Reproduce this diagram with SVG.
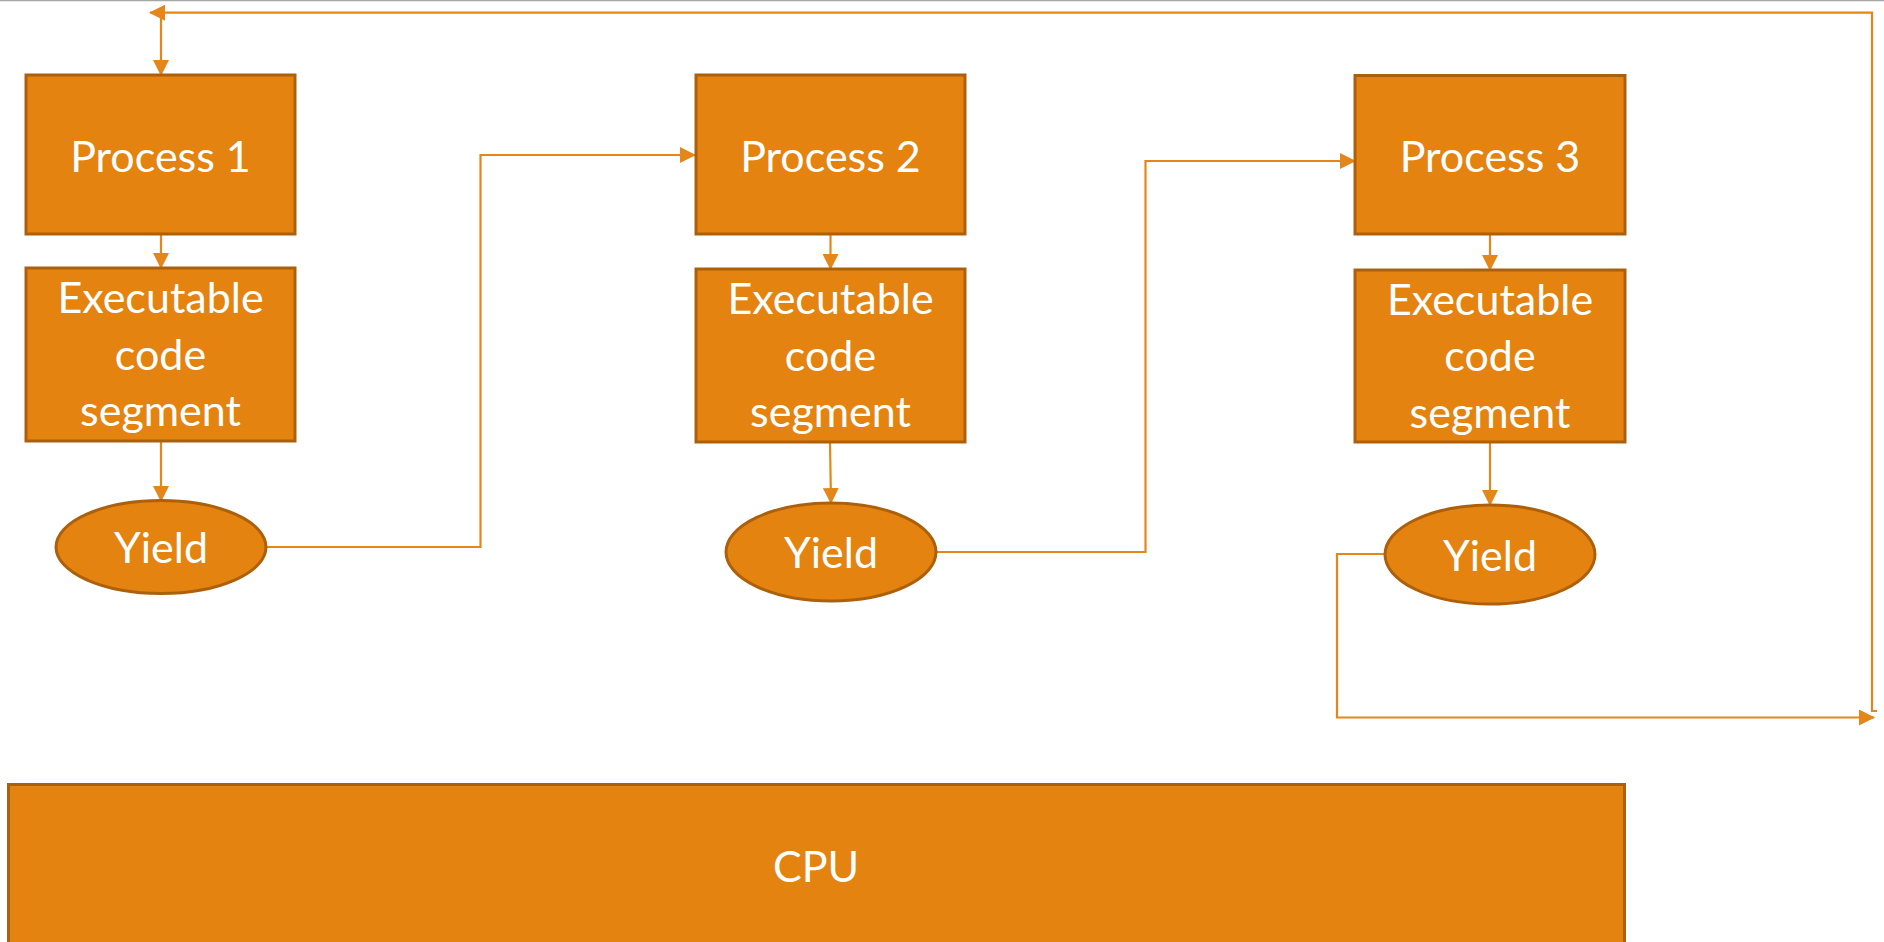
<svg xmlns="http://www.w3.org/2000/svg" width="1884" height="942" viewBox="0 0 1884 942">
  <defs>
    <style>
      .box { fill: #E4830F; stroke: #AD600C; stroke-width: 3; }
      .lbl { fill: #FFFFFF; font-family: Lato, "Open Sans", sans-serif; font-size: 43px; text-anchor: middle; }
      .conn { fill: none; stroke: #E5861A; stroke-width: 2.2; }
    </style>
    <marker id="arr" markerUnits="userSpaceOnUse" markerWidth="16" markerHeight="16" viewBox="0 0 16 16" refX="15" refY="8" orient="auto">
      <path d="M0,0 L16,8 L0,16 z" fill="#E5861A"/>
    </marker>
  </defs>
  <rect x="0" y="0" width="1884" height="942" fill="#FFFFFF"/>
  <line x1="0" y1="0.6" x2="1884" y2="0.6" stroke="#A6A6A6" stroke-width="1.5"/>

  <g id="connectors">
    <path class="conn" d="M161,234 V268" marker-end="url(#arr)"/>
    <path class="conn" d="M161,441 V501" marker-end="url(#arr)"/>
    <path class="conn" d="M266,547 H480.5 V155 H695" marker-end="url(#arr)"/>
    <path class="conn" d="M830.5,234 V269" marker-end="url(#arr)"/>
    <path class="conn" d="M830,442 L831,503" marker-end="url(#arr)"/>
    <path class="conn" d="M936,552 H1145.5 V161 H1355" marker-end="url(#arr)"/>
    <path class="conn" d="M1490,234 V270" marker-end="url(#arr)"/>
    <path class="conn" d="M1490,442 V505" marker-end="url(#arr)"/>
    <path class="conn" d="M1385,554 H1337 V717.5 H1874" marker-end="url(#arr)"/>
    <path class="conn" d="M1877,711 H1872 V12.7 H150" marker-end="url(#arr)"/>
    <path class="conn" d="M161,12.7 V75" marker-end="url(#arr)"/>
  </g>

  <g id="process1">
    <rect class="box" x="26" y="75" width="269" height="159"/>
    <text class="lbl" x="160.5" y="171.5">Process 1</text>
  </g>
  <g id="exec1">
    <rect class="box" x="26" y="268" width="269" height="173"/>
    <text class="lbl" x="160.5" y="313">Executable</text>
    <text class="lbl" x="160.5" y="369.5">code</text>
    <text class="lbl" x="160.5" y="426">segment</text>
  </g>
  <g id="yield1">
    <ellipse class="box" cx="161" cy="547" rx="105" ry="46.5"/>
    <text class="lbl" x="161" y="563">Yield</text>
  </g>

  <g id="process2">
    <rect class="box" x="696" y="75" width="269" height="159"/>
    <text class="lbl" x="830.5" y="171.5">Process 2</text>
  </g>
  <g id="exec2">
    <rect class="box" x="696" y="269" width="269" height="173"/>
    <text class="lbl" x="830.5" y="314">Executable</text>
    <text class="lbl" x="830.5" y="370.5">code</text>
    <text class="lbl" x="830.5" y="427">segment</text>
  </g>
  <g id="yield2">
    <ellipse class="box" cx="831" cy="552" rx="105" ry="49"/>
    <text class="lbl" x="831" y="568">Yield</text>
  </g>

  <g id="process3">
    <rect class="box" x="1355" y="75.5" width="270" height="158.5"/>
    <text class="lbl" x="1490" y="171.5">Process 3</text>
  </g>
  <g id="exec3">
    <rect class="box" x="1355" y="270" width="270" height="172"/>
    <text class="lbl" x="1490" y="314.5">Executable</text>
    <text class="lbl" x="1490" y="371">code</text>
    <text class="lbl" x="1490" y="427.5">segment</text>
  </g>
  <g id="yield3">
    <ellipse class="box" cx="1490" cy="554.5" rx="105" ry="49.5"/>
    <text class="lbl" x="1490" y="570.5">Yield</text>
  </g>

  <g id="cpu">
    <rect class="box" x="8.5" y="784.5" width="1616" height="200"/>
    <text class="lbl" x="816" y="882">CPU</text>
  </g>
</svg>
